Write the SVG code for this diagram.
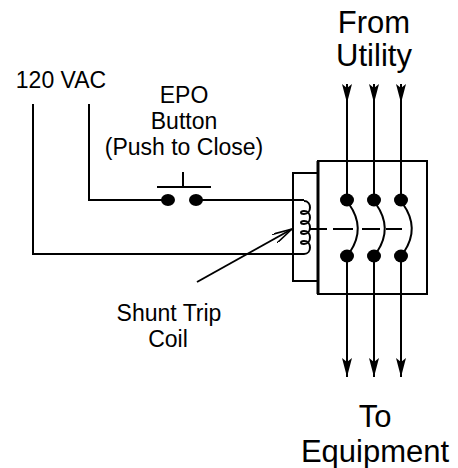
<svg xmlns="http://www.w3.org/2000/svg" width="458" height="468" viewBox="0 0 458 468">
<style>
.w{fill:none;stroke:#000;stroke-width:2}
.t{font-family:"Liberation Sans",Arial,sans-serif;font-size:23px;fill:#000;text-anchor:middle}
.big{font-size:31px}
.dot{fill:#000}
</style>
<defs>
<marker id="solid" viewBox="0 0 19 10" refX="0" refY="5" markerWidth="19" markerHeight="10" markerUnits="userSpaceOnUse" orient="auto">
<path d="M0,0 L19,5 L0,10 L4,5 Z" fill="#000"/>
</marker>
<marker id="solidEnd" viewBox="0 0 19 10" refX="19" refY="5" markerWidth="19" markerHeight="10" markerUnits="userSpaceOnUse" orient="auto">
<path d="M0,0 L19,5 L0,10 L4,5 Z" fill="#000"/>
</marker>
<marker id="open" viewBox="0 0 20 10" refX="20" refY="5" markerWidth="20" markerHeight="10" markerUnits="userSpaceOnUse" orient="auto">
<path d="M0,0 L20,5 L0,10" fill="none" stroke="#000" stroke-width="1.6"/>
</marker>
</defs>
<rect width="458" height="468" fill="#fff"/>

<g id="connectors">
<path class="w" d="M89,104 V200 H168"/>
<path class="w" d="M196,200 H304"/>
<path class="w" d="M33,104 V254 H304"/>
<line class="w" x1="347" y1="84" x2="347" y2="200" marker-start="url(#solid)"/>
<line class="w" x1="374" y1="84" x2="374" y2="200" marker-start="url(#solid)"/>
<line class="w" x1="401" y1="84" x2="401" y2="200" marker-start="url(#solid)"/>
<line class="w" x1="347" y1="256" x2="347" y2="377" marker-end="url(#solidEnd)"/>
<line class="w" x1="374" y1="256" x2="374" y2="377" marker-end="url(#solidEnd)"/>
<line class="w" x1="401" y1="256" x2="401" y2="377" marker-end="url(#solidEnd)"/>
<line class="w" x1="197" y1="282" x2="292" y2="229" stroke-width="1.8" marker-end="url(#open)"/>
</g>

<g id="source-120vac">
<text class="t" x="61" y="88">120 VAC</text>
</g>

<g id="epo-button">
<text class="t" x="184" y="103">EPO</text>
<text class="t" x="184" y="129">Button</text>
<text class="t" x="184" y="155">(Push to Close)</text>
<ellipse class="dot" cx="168" cy="200" rx="7" ry="6"/>
<ellipse class="dot" cx="196" cy="200" rx="7" ry="6"/>
<path class="w" d="M157,187 H211 M183,172 V187"/>
</g>

<g id="shunt-trip-coil">
<rect class="w" x="293" y="173" width="25" height="108"/>
<path class="w" stroke-width="1.8" d="M304,201 C312,201 312,214 304,214 C300,214 300,211 304,211 C312,211 312,224 304,224 C300,224 300,221 304,221 C312,221 312,234 304,234 C300,234 300,231 304,231 C312,231 312,244 304,244 C300,244 300,241 304,241 C312,241 312,254 304,254"/>
<text class="t" x="169" y="321">Shunt Trip</text>
<text class="t" x="168" y="347">Coil</text>
</g>

<g id="breaker">
<rect class="w" x="318" y="161" width="109" height="133"/>
<line x1="318" y1="161" x2="318" y2="294" stroke="#000" stroke-width="3"/>
<ellipse class="dot" cx="347" cy="200" rx="7" ry="6.5"/>
<ellipse class="dot" cx="374" cy="200" rx="7" ry="6.5"/>
<ellipse class="dot" cx="401" cy="200" rx="7" ry="6.5"/>
<ellipse class="dot" cx="347" cy="256" rx="7" ry="6.5"/>
<ellipse class="dot" cx="374" cy="256" rx="7" ry="6.5"/>
<ellipse class="dot" cx="401" cy="256" rx="7" ry="6.5"/>
<path class="w" d="M349,204 Q366,228 350,252 M376,204 Q393,228 377,252 M403,204 Q420,228 404,252"/>
<line class="w" x1="310" y1="229" x2="402" y2="229" stroke-dasharray="17 6 20 9 18 6 16"/>
</g>

<g id="labels">
<text class="t big" x="374" y="33">From</text>
<text class="t big" x="374" y="66">Utility</text>
<text class="t big" x="375" y="427">To</text>
<text class="t big" x="375" y="462">Equipment</text>
</g>
</svg>
